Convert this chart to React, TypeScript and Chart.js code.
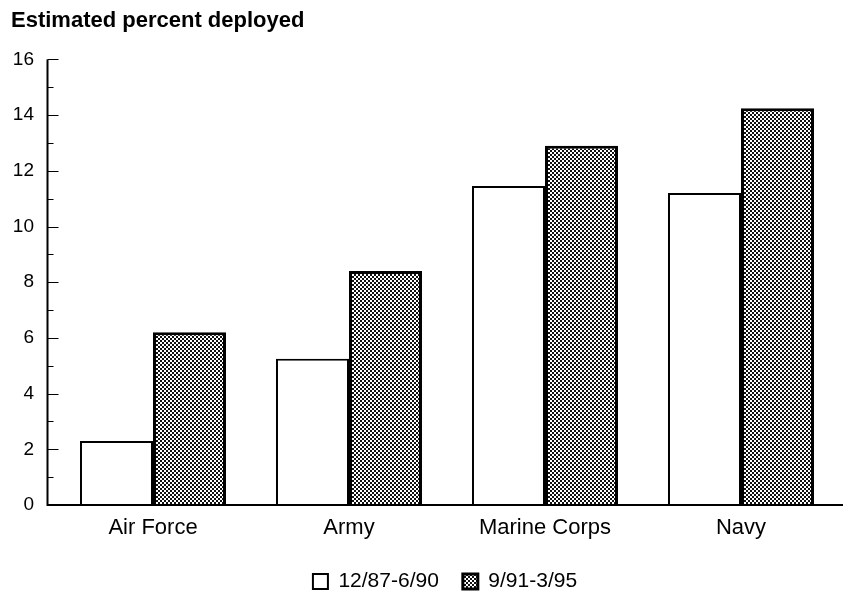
import React, { useEffect, useRef } from 'react';
import { Chart, registerables } from 'chart.js';

Chart.register(...registerables);

const titleText = 'Estimated percent deployed';
const categories = ['Air Force', 'Army', 'Marine Corps', 'Navy'];
const seriesLabels = ['12/87-6/90', '9/91-3/95'];
const period1 = [2.3, 5.25, 11.45, 11.2];
const period2 = [6.2, 8.4, 12.9, 14.25];
const yMin = 0;
const yMax = 16;
const yStep = 2;

const FONT = '"Liberation Sans", Arial, Helvetica, sans-serif';

function makePattern(): CanvasPattern | string {
  const c = document.createElement('canvas');
  c.width = 4;
  c.height = 4;
  const g = c.getContext('2d');
  if (!g) return '#777';
  g.fillStyle = '#ffffff';
  g.fillRect(0, 0, 4, 4);
  g.fillStyle = '#111111';
  g.fillRect(0, 0, 2, 2);
  g.fillRect(2, 2, 2, 2);
  return g.createPattern(c, 'repeat') || '#777';
}

const axisPlugin = {
  id: 'axisLines',
  afterLayout(chart: any) {
    const lg = chart.legend;
    if (lg) {
      lg.left += 20;
      lg.right += 20;
    }
  },
  afterDatasetsDraw(chart: any) {
    const { ctx, chartArea, scales } = chart;
    const y = scales.y;
    const axisX = Math.round(chartArea.left - 8) + 0.5;
    const bottom = y.getPixelForValue(yMin);
    const top = y.getPixelForValue(yMax);
    ctx.save();
    ctx.strokeStyle = '#000';
    ctx.lineWidth = 2;
    ctx.beginPath();
    ctx.moveTo(axisX, top);
    ctx.lineTo(axisX, bottom + 1);
    ctx.moveTo(axisX - 1, bottom);
    ctx.lineTo(chart.width, bottom);
    ctx.stroke();
    ctx.lineWidth = 1.2;
    ctx.beginPath();
    for (let v = yMin; v <= yMax; v += 1) {
      const py = Math.round(y.getPixelForValue(v)) + 0.5;
      const len = v % 2 === 0 ? 11 : 6;
      ctx.moveTo(axisX, py);
      ctx.lineTo(axisX + len, py);
    }
    ctx.stroke();
    ctx.restore();
  },
};

export default function App() {
  const ref = useRef<HTMLCanvasElement | null>(null);

  useEffect(() => {
    if (!ref.current) return;
    const pattern = makePattern();
    const chart = new Chart(ref.current, {
      type: 'bar',
      data: {
        labels: categories,
        datasets: [
          {
            label: seriesLabels[0],
            data: period1,
            backgroundColor: '#ffffff',
            borderColor: '#000000',
            borderWidth: 2,
          },
          {
            label: seriesLabels[1],
            data: period2,
            backgroundColor: pattern as any,
            borderColor: '#000000',
            borderWidth: 3,
          },
        ],
      },
      options: {
        responsive: false,
        animation: false,
        devicePixelRatio: 1,
        layout: { padding: { left: 11, right: 4, top: 0, bottom: -5 } },
        datasets: {
          bar: { categoryPercentage: 0.745, barPercentage: 1.0, borderSkipped: 'bottom' },
        },
        plugins: {
          title: {
            display: true,
            text: titleText,
            align: 'start',
            color: '#000',
            font: { family: FONT, size: 22, weight: 'bold' },
            padding: { top: 8, bottom: 25 },
          },
          legend: {
            display: true,
            position: 'bottom',
            labels: {
              color: '#000',
              font: { family: FONT, size: 21 },
              boxWidth: 15,
              boxHeight: 15,
              padding: 24,
            },
          },
          tooltip: { enabled: false },
        },
        scales: {
          x: {
            grid: { display: false, drawTicks: false },
            border: { display: false },
            ticks: { color: '#000', font: { family: FONT, size: 22 }, padding: 10, maxRotation: 0 },
            afterFit: (scale: any) => {
              scale.height = 42;
            },
          },
          y: {
            min: yMin,
            max: yMax,
            grid: { display: false, drawTicks: false },
            border: { display: false },
            ticks: { stepSize: yStep, color: '#000', font: { family: FONT, size: 19 }, padding: 21 },
            afterFit: (scale: any) => {
              scale.width = 44;
            },
          },
        },
      },
      plugins: [axisPlugin],
    });
    return () => chart.destroy();
  }, []);

  return (
    <div style={{ position: 'fixed', left: 0, top: 0, width: 843, height: 597, background: '#fff' }}>
      <canvas ref={ref} width={843} height={597} style={{ display: 'block' }} />
    </div>
  );
}
